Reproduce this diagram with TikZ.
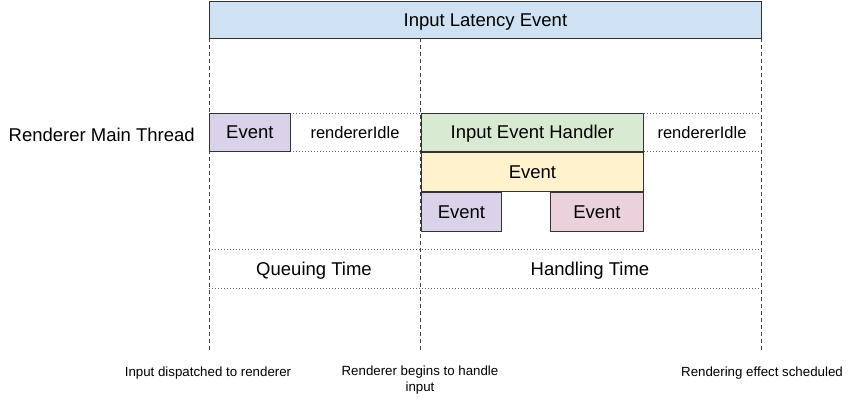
\documentclass[tikz,border=0pt]{standalone}
\usepackage{fontspec}
\setmainfont{Liberation Sans}
\definecolor{latblue}{HTML}{CFE2F3}
\definecolor{evpurple}{HTML}{D9D2E9}
\definecolor{hdgreen}{HTML}{D9EAD3}
\definecolor{evyellow}{HTML}{FFF2CC}
\definecolor{evpink}{HTML}{EAD1DC}
\begin{document}
\begin{tikzpicture}[x=1pt, y=-1pt,
	box/.style={draw=black!80, line width=0.8pt, inner sep=0pt, anchor=north west,
		minimum height=38pt, text height=13.2pt, text depth=0pt, font=\fontsize{18.5}{21}\selectfont},
	lbl/.style={inner sep=0pt, yshift=-1.5pt, font=\fontsize{18.5}{21}\selectfont},
	idle/.style={inner sep=0pt, font=\fontsize{16.5}{19}\selectfont},
	note/.style={inner sep=0pt, yshift=-1.5pt, align=center, font=\fontsize{13.3}{16}\selectfont},
	vline/.style={black!75, line width=0.7pt, dash pattern=on 4pt off 3pt},
	hline/.style={black!60, line width=0.7pt, dash pattern=on 1pt off 2pt}]
	% Time markers (x positions, edit these to taste)
	\def\tA{209}    % input dispatched
	\def\tB{420}    % handling begins
	\def\tC{761}    % effect scheduled
	
	\useasboundingbox (0,0) rectangle (854,401);
	
	% Dotted row guides
	\foreach \y in {113,151,249,288}{
		\draw[hline] (\tA,\y) -- (\tC,\y);
	}
	
	% Top bar
	\node[box, fill=latblue, minimum width=552pt, minimum height=37pt] (latency) at (\tA,1) {Input Latency Event};
	
	% Dashed time markers
	\foreach \x/\n in {\tA/A,\tB/B,\tC/C}{
		\coordinate (top\n) at (\x,38);
		\coordinate (end\n) at (\x,352);
		\draw[vline] (top\n) -- (end\n);
	}
	
	% Main thread row
	\node[lbl, anchor=east] (thread) at (195,133) {Renderer Main Thread};
	\node[box, fill=evpurple, minimum width=81pt] (evA) at (\tA,113) {Event};
	\node[idle] (idleA) at (355,132.5) {rendererIdle};
	\node[box, fill=hdgreen, minimum width=222pt] (handler) at (421,113) {Input Event Handler};
	\node[idle] (idleB) at (702,132.5) {rendererIdle};
	
	% Nested events
	\node[box, fill=evyellow, minimum width=222pt, minimum height=39pt] (evB) at (handler.south west) {Event};
	\node[box, fill=evpurple, minimum width=80pt, minimum height=39pt] (evC) at (evB.south west) {Event};
	\node[box, fill=evpink, minimum width=93pt, minimum height=39pt, anchor=north east] (evD) at (evB.south east) {Event};
	
	% Phases
	\node[lbl] (queue) at (314,269) {Queuing Time};
	\node[lbl] (handle) at (590,269) {Handling Time};
	
	% Markers
	\node[note] (noteA) at (208,372) {Input dispatched to renderer};
	\node[note, anchor=north] (noteB) at (420,364) {Renderer begins to handle\\input};
	\node[note] (noteC) at (762,372) {Rendering effect scheduled};
\end{tikzpicture}
\end{document}
